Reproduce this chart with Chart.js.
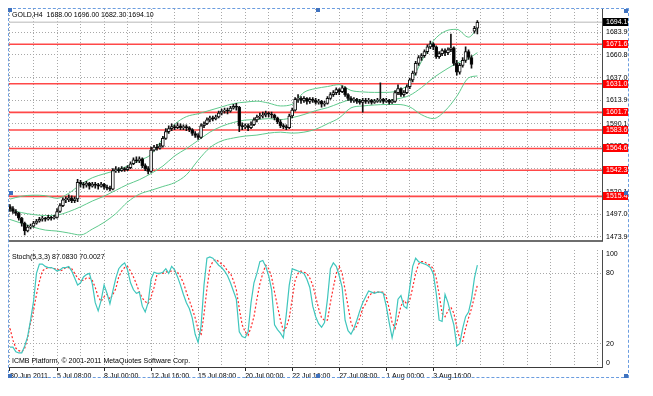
<!DOCTYPE html>
<html><head><meta charset="utf-8">
<script src="https://cdn.jsdelivr.net/npm/chart.js@4.4.0/dist/chart.umd.min.js"></script>
<style>
html,body{margin:0;padding:0;background:#fff;}
body{width:653px;height:396px;position:relative;overflow:hidden;font-family:'Liberation Sans',Arial,sans-serif;}
canvas{position:absolute;left:0;}
#c1{top:0;}
#c2{top:249px;}
.txt{position:absolute;font-size:7px;line-height:7px;color:#000;white-space:pre;}
#sel{position:absolute;left:8px;top:8px;width:619px;height:368px;border:1px dashed #6b9de0;pointer-events:none;}
.sq{position:absolute;width:4px;height:4px;background:#3f72bf;}
</style></head><body>
<canvas id="c1" width="628" height="249"></canvas>
<canvas id="c2" width="628" height="140"></canvas>
<div class="txt" id="hdr" style="left:12px;top:11px;"></div>
<div class="txt" id="stt" style="left:12px;top:253px;"></div>
<div class="txt" id="cpy" style="left:12px;top:357px;">ICMB Platform, © 2001-2011 MetaQuotes Software Corp.</div>
<div id="sel"></div>
<div class="sq" style="left:8px;top:8px"></div>
<div class="sq" style="left:316px;top:8px"></div>
<div class="sq" style="left:624px;top:9px"></div>
<div class="sq" style="left:9px;top:191px"></div>
<div class="sq" style="left:624px;top:191px"></div>
<div class="sq" style="left:8px;top:374px"></div>
<div class="sq" style="left:316px;top:374px"></div>
<div class="sq" style="left:624px;top:374px"></div>
<script>
// ---------- DATA ----------
const symbol = 'GOLD,H4';
const tickLabels = ['30 Jun 2011','5 Jul 08:00','8 Jul 00:00','12 Jul 16:00','15 Jul 08:00','20 Jul 00:00','22 Jul 16:00','27 Jul 08:00','1 Aug 00:00','3 Aug 16:00'];
const priceTicks = [1683.90,1660.80,1637.00,1613.90,1590.10,1567.00,1543.90,1520.10,1497.00,1473.90];
const stochTicks = [100,80,20,0];
const levels = [1671.68,1631.02,1601.73,1583.60,1564.65,1542.34,1515.45];
const bidPrice = 1694.10;

const openP = [1505,1503,1500,1498,1493,1488,1480,1484,1485,1488,
1490,1492,1493,1492,1494,1493,1494,1500,1506,1512,
1512,1514,1511,1513,1530,1528,1527,1529,1526,1528,
1527,1526,1528,1525,1524,1523,1542,1543,1542,1544,
1543,1545,1549,1553,1552,1554,1547,1544,1541,1563,
1566,1565,1567,1575,1582,1585,1587,1586,1588,1586,
1587,1586,1584,1580,1578,1576,1588,1590,1594,1596,
1595,1597,1601,1603,1604,1603,1606,1608,1607,1588,
1587,1588,1586,1589,1594,1597,1598,1599,1601,1600,
1599,1596,1592,1588,1587,1586,1598,1604,1615,1616,
1614,1616,1613,1615,1614,1612,1613,1610,1611,1616,
1620,1622,1625,1623,1627,1620,1616,1614,1615,1613,
1612,1614,1613,1614,1612,1613,1614,1615,1613,1614,
1612,1613,1622,1626,1620,1622,1628,1635,1642,1652,
1658,1660,1664,1669,1672,1669,1659,1662,1665,1663,
1666,1668,1652,1643,1650,1655,1664,1658,1685,1688.00];
const highP = [1507,1505,1502,1499,1494,1489,1486,1487,1490,1492,
1494,1495,1494,1496,1495,1496,1503,1508,1514,1515,
1517,1516,1515,1533,1532,1530,1531,1530,1530,1530,
1529,1530,1529,1527,1526,1544,1546,1545,1546,1545,
1547,1551,1555,1556,1556,1555,1549,1546,1566,1568,
1569,1570,1577,1585,1588,1590,1589,1591,1590,1589,
1589,1587,1585,1582,1580,1590,1592,1596,1598,1598,
1599,1603,1605,1606,1606,1608,1610,1611,1608,1591,
1590,1590,1592,1596,1599,1601,1602,1603,1602,1602,
1600,1597,1594,1590,1589,1600,1606,1617,1620,1618,
1618,1617,1617,1617,1616,1615,1614,1613,1618,1622,
1624,1627,1626,1629,1628,1621,1618,1617,1616,1615,
1616,1616,1616,1615,1615,1616,1632,1616,1616,1615,
1615,1624,1630,1627,1624,1630,1637,1644,1654,1660,
1662,1666,1671,1675,1673,1670,1664,1667,1667,1668,
1682,1669,1655,1652,1658,1669,1666,1660,1690,1696.00];
const lowP = [1500,1498,1496,1491,1485,1476,1479,1482,1484,1487,
1489,1490,1490,1491,1491,1492,1493,1499,1505,1509,
1510,1509,1509,1510,1525,1524,1525,1523,1525,1524,
1523,1525,1523,1522,1521,1522,1540,1540,1541,1541,
1542,1544,1548,1550,1550,1545,1542,1538.6,1540,1562,
1563,1564,1566,1574,1580,1583,1584,1585,1584,1584,
1583,1582,1578,1576,1574,1575,1586,1589,1592,1593,
1594,1596,1599,1601,1600,1602,1605,1604,1582,1584,
1585,1583,1585,1588,1592,1595,1596,1597,1597,1596,
1594,1590,1586,1585,1584,1585,1596,1603,1612,1611,
1612,1610,1611,1612,1610,1610,1607,1608,1610,1615,
1618,1620,1620,1622,1618,1614,1612,1612,1611,1610,
1602,1611,1611,1610,1611,1612,1612,1611,1612,1610,
1611,1612,1620,1618,1618,1621,1626,1633,1640,1650,
1655,1658,1662,1667,1666,1657,1657,1660,1660,1661,
1664,1650,1640,1641,1648,1653,1656,1647,1683,1682.30];
const closeP = [1503,1500,1498,1493,1488,1480,1484,1485,1488,1490,
1492,1493,1492,1494,1493,1494,1500,1506,1512,1512,
1514,1511,1513,1530,1528,1527,1529,1526,1528,1527,
1526,1528,1525,1524,1523,1542,1543,1542,1544,1543,
1545,1549,1553,1552,1554,1547,1544,1541,1563,1566,
1565,1567,1575,1582,1585,1587,1586,1588,1586,1587,
1586,1584,1580,1578,1576,1588,1590,1594,1596,1595,
1597,1601,1603,1604,1603,1606,1608,1607,1588,1587,
1588,1586,1589,1594,1597,1598,1599,1601,1600,1599,
1596,1592,1588,1587,1586,1598,1604,1615,1616,1614,
1616,1613,1615,1614,1612,1613,1610,1611,1616,1620,
1622,1625,1623,1627,1620,1616,1614,1615,1613,1612,
1614,1613,1614,1612,1613,1614,1615,1613,1614,1612,
1613,1622,1626,1620,1622,1628,1635,1642,1652,1658,
1660,1664,1669,1672,1669,1659,1662,1665,1663,1666,
1668,1652,1643,1650,1655,1664,1658,1651,1688,1694.10];

// Bollinger bands, read every 4th bar (and the last bar)
const bbIdx = [0,4,8,12,16,20,24,28,32,36,40,44,48,52,56,60,64,68,72,76,80,84,88,92,96,100,104,108,112,116,120,124,128,132,136,140,144,148,152,156,159];
const bbUpper = [1512.7,1515.7,1516.7,1516.2,1513.5,1518.7,1527.7,1534.6,1538.6,1542.1,1546.6,1552.5,1558.5,1575.0,1589.4,1597.3,1600.3,1603.8,1607.3,1610.7,1612.2,1613.2,1611.2,1608.3,1610.0,1622.2,1626.2,1628.2,1630.2,1624.2,1622.7,1622.2,1622.2,1624.2,1632.1,1654.0,1674.9,1684.9,1686.9,1678.9,1687.9];
const bbMiddle = [1501.8,1498.8,1496.8,1495.8,1496.3,1499.8,1504.8,1510.7,1515.7,1521.7,1527.7,1532.6,1539.0,1546.6,1557.0,1564.5,1572.9,1581.4,1587.4,1591.3,1593.8,1594.3,1595.3,1594.3,1596.3,1599.5,1603.5,1606.5,1611.0,1614.5,1614.0,1613.5,1613.7,1615.7,1619.2,1627.2,1637.1,1645.1,1652.1,1657.0,1663.0];
const bbLower = [1491.8,1487.8,1483.9,1480.9,1479.9,1477.9,1475.9,1481.9,1488.8,1497.8,1509.7,1517.7,1521.7,1525.6,1529.6,1537.6,1552.5,1565.5,1572.4,1575.4,1577.4,1578.4,1580.4,1581.4,1580.4,1581.4,1584.4,1590.0,1596.0,1606.3,1608.3,1609.3,1609.8,1609.8,1607.3,1599.3,1595.3,1603.3,1618.2,1637.1,1639.1];

// Stochastic (5,3,3), one value per bar
const stochK = [17,17,13,12,12,18,26,40,56,80,
88,88,86,85,85,84,82,83,85,85,
86,82,76,70,72,77,79,80,71,55,
48,57,70,63,54,65,76,84,87,89,
83,72,66,63,64,52,47,55,75,81,
80,80,81,84,80,86,83,77,70,62,
55,50,42,28,21,35,70,93,94,93,
90,87,85,82,78,72,65,58,30,26,
25,30,55,72,80,90,91,86,78,66,
36,32,29,25,45,70,84,83,82,81,
80,75,68,52,43,37,34,38,58,84,
89,86,78,68,40,31,28,33,40,48,
55,60,65,64,63,64,64,63,52,38,
25,37,58,61,52,50,68,86,93,90,
89,88,87,85,80,63,40,39,62,55,
45,36,18,20,33,43,47,58,76,87.0830];
const stochD = [33,23,16,14,13,16,25,38,48,62,
73,82,84,85,85,84,84,82,83,85,
85,84,80,76,74,74,76,76,74,68,
60,56,60,62,58,62,67,77,82,85,
86,82,77,71,64,59,56,54,60,68,
79,80,80,81,82,82,82,81,77,72,
64,57,50,42,32,27,45,67,85,90,
92,90,88,86,82,80,74,66,50,36,
30,27,34,43,58,71,80,87,84,77,
64,52,40,31,34,42,58,74,80,82,
81,80,76,70,60,50,42,40,40,55,
68,80,86,80,66,52,38,32,35,42,
50,54,60,63,64,64,64,64,60,50,
38,33,42,52,57,54,57,68,80,88,
90,90,88,87,84,76,62,46,43,48,
51,46,34,24,22,33,42,50,60,70.0027];

// ---------- CHARTS ----------
const FONT = "'Liberation Sans', Arial, sans-serif";
const GRID = '#a8a8a8';
const GRID_DASH = [1, 2];
const last = closeP.length - 1;
document.getElementById('hdr').textContent = symbol + '  ' + openP[last].toFixed(2) + ' ' + highP[last].toFixed(2) + ' ' + lowP[last].toFixed(2) + ' ' + closeP[last].toFixed(2);
document.getElementById('stt').textContent = 'Stoch(5,3,3) ' + stochK[last].toFixed(4) + ' ' + stochD[last].toFixed(4);

const X_MIN = -0.34, X_MAX = 201.4;
function xScale(showLabels) {
  return {
    type: 'linear', min: X_MIN, max: X_MAX, offset: false,
    afterBuildTicks: s => { const t = []; for (let v = 0; v <= 200; v += 8) t.push({value: v}); s.ticks = t; },
    afterFit: s => { s.height = showLabels ? 22 : 0; },
    grid: {
      display: true, drawOnChartArea: true, offset: false, color: GRID, lineWidth: 1, drawTicks: showLabels, tickLength: 4,
      tickColor: c => (c.tick && c.tick.value % 16 === 0 && c.tick.value / 16 < tickLabels.length) ? '#222' : 'rgba(0,0,0,0)'
    },
    border: { display: true, color: showLabels ? '#3a3a3a' : '#6e6e6e', width: showLabels ? 1 : 2, dash: GRID_DASH },
    ticks: {
      display: showLabels, autoSkip: false, maxRotation: 0, minRotation: 0, align: 'start', padding: 1,
      color: '#000', font: { family: FONT, size: 7 },
      callback: v => (v % 16 === 0 && v / 16 < tickLabels.length) ? tickLabels[v / 16] : ''
    }
  };
}

const levelLabels = {
  id: 'levelLabels',
  afterDraw(chart) {
    const ctx = chart.ctx, ys = chart.scales.y;
    ctx.save();
    ctx.font = '7px ' + FONT;
    ctx.textBaseline = 'middle';
    ctx.textAlign = 'left';
    levels.forEach(v => {
      const py = Math.round(ys.getPixelForValue(v));
      ctx.fillStyle = '#ff0000';
      ctx.fillRect(ys.left + 1, py - 4, 40, 8);
      ctx.fillStyle = '#ffffff';
      ctx.fillText(v.toFixed(2), ys.left + 4, py + 0.5);
    });
    const pb = Math.round(ys.getPixelForValue(bidPrice));
    ctx.fillStyle = '#000000';
    ctx.fillRect(ys.left + 1, pb - 4, 40, 8);
    ctx.fillStyle = '#ffffff';
    ctx.fillText(bidPrice.toFixed(2), ys.left + 4, pb + 0.5);
    ctx.restore();
  }
};

const candleWicks = closeP.map((c, i) => ({ x: i, y: [lowP[i], highP[i]] }));
const candleBodies = closeP.map((c, i) => ({ x: i, y: [openP[i], c] }));
const bodyColors = closeP.map((c, i) => c >= openP[i] ? '#ffffff' : '#000000');
const bandLine = arr => bbIdx.map((x, k) => ({ x: x, y: arr[k] }));
const BB_COLOR = '#5fc98c';

const mainDatasets = [
  { type: 'bar', data: candleBodies, backgroundColor: bodyColors, borderColor: '#111', borderWidth: 1, borderSkipped: false,
    barThickness: 3, minBarLength: 1, grouped: false, order: 0 },
  { type: 'bar', data: candleWicks, backgroundColor: '#111', borderWidth: 0, barThickness: 1, grouped: false, order: 1 },
  { type: 'line', data: bandLine(bbUpper), borderColor: BB_COLOR, borderWidth: 1, pointRadius: 0, cubicInterpolationMode: 'monotone', order: 2 },
  { type: 'line', data: bandLine(bbMiddle), borderColor: BB_COLOR, borderWidth: 1, pointRadius: 0, cubicInterpolationMode: 'monotone', order: 2 },
  { type: 'line', data: bandLine(bbLower), borderColor: BB_COLOR, borderWidth: 1, pointRadius: 0, cubicInterpolationMode: 'monotone', order: 2 },
  ...levels.map(v => ({ type: 'line', data: [{ x: X_MIN - 1, y: v }, { x: X_MAX + 1, y: v }], borderColor: 'rgba(255,40,40,0.85)', borderWidth: 1.6, pointRadius: 0, order: 3 })),
  { type: 'line', data: [{ x: X_MIN - 1, y: bidPrice }, { x: X_MAX + 1, y: bidPrice }], borderColor: '#cfcfcf', borderWidth: 1.5, pointRadius: 0, order: 4 }
];

new Chart(document.getElementById('c1'), {
  type: 'bar',
  data: { datasets: mainDatasets },
  options: {
    responsive: false, animation: false, events: [],
    layout: { padding: { left: 9, top: 9, right: 0, bottom: 1 } },
    plugins: { legend: { display: false }, tooltip: { enabled: false } },
    scales: {
      x: xScale(false),
      y: {
        type: 'linear', position: 'right', min: 1469.9, max: 1707.8, beginAtZero: false,
        afterBuildTicks: s => { s.ticks = priceTicks.map(v => ({ value: v })); },
        afterFit: s => { s.width = 26; },
        grid: { display: true, drawOnChartArea: true, color: GRID, lineWidth: 1, drawTicks: false },
        border: { display: true, color: '#4a4a4a', width: 1, dash: GRID_DASH },
        ticks: { padding: 4, color: '#000', font: { family: FONT, size: 7 }, callback: v => Number(v).toFixed(2) }
      }
    }
  },
  plugins: [levelLabels]
});

const stochLabels = {
  id: 'stochLabels',
  afterDraw(chart) {
    const ctx = chart.ctx, ys = chart.scales.y, a = chart.chartArea;
    ctx.save();
    ctx.font = '7px ' + FONT;
    ctx.textBaseline = 'middle';
    ctx.textAlign = 'left';
    ctx.fillStyle = '#000';
    stochTicks.forEach(v => {
      let py = ys.getPixelForValue(v);
      py = Math.min(Math.max(py, a.top + 4.5), a.bottom - 4);
      ctx.fillText(String(v), ys.left + 4, py);
    });
    ctx.restore();
  }
};

new Chart(document.getElementById('c2'), {
  type: 'line',
  data: { datasets: [
    { data: stochK.map((v, i) => ({ x: i, y: v })), borderColor: '#3fc6bd', borderWidth: 1.2, pointRadius: 0, tension: 0 },
    { data: stochD.map((v, i) => ({ x: i, y: v })), borderColor: '#ff2a2a', borderWidth: 1.2, borderDash: [2, 2], pointRadius: 0, tension: 0 }
  ] },
  options: {
    responsive: false, animation: false, events: [],
    layout: { padding: { left: 9, top: 1, right: 0, bottom: 0 } },
    plugins: { legend: { display: false }, tooltip: { enabled: false } },
    scales: {
      x: xScale(true),
      y: {
        type: 'linear', position: 'right', min: 0, max: 100,
        afterBuildTicks: s => { s.ticks = stochTicks.map(v => ({ value: v })); },
        afterFit: s => { s.width = 26; },
        grid: { display: true, drawOnChartArea: true, color: c => (c.tick && (c.tick.value === 20 || c.tick.value === 80)) ? GRID : 'rgba(0,0,0,0)', lineWidth: 1, drawTicks: false },
        border: { display: true, color: '#4a4a4a', width: 1, dash: GRID_DASH },
        ticks: { display: false }
      }
    }
  },
  plugins: [stochLabels]
});
</script>
</body></html>
